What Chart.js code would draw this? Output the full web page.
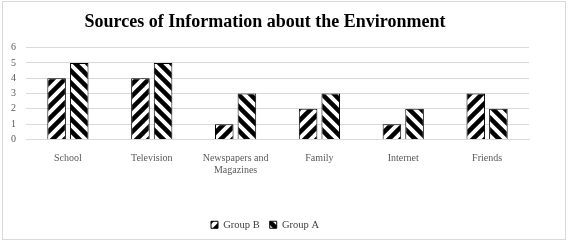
<!DOCTYPE html>
<html>
<head>
<meta charset="utf-8">
<script src="https://cdn.jsdelivr.net/npm/chart.js@4"></script>
<style>
  html, body { margin: 0; padding: 0; background: #fff; }
  #wrap { position: absolute; left: 0; top: 0; width: 569px; height: 246px; }
  #frame { position: absolute; left: 2px; top: 1px; width: 562px; height: 237px; border: 1px solid #d9d9d9; pointer-events: none; }
</style>
</head>
<body>
<div id="wrap"><canvas id="chart" width="569" height="246"></canvas></div>
<div id="frame"></div>
<script>
const categories = ["School", "Television", ["Newspapers and", "Magazines"], "Family", "Internet", "Friends"];
const groupB = [4, 4, 1, 2, 1, 3];
const groupA = [5, 5, 3, 3, 2, 2];
const yTicks = [0, 1, 2, 3, 4, 5, 6];

// striped fill: dir 1 = "/" , dir -1 = "\"
function stripes(dir) {
    const size = 12;
    const c = document.createElement("canvas");
    c.width = size;
    c.height = size;
    const ctx = c.getContext("2d");
    ctx.fillStyle = "#fff";
    ctx.fillRect(0, 0, size, size);
    ctx.strokeStyle = "#000";
    ctx.lineWidth = 4.5;
    for (let k = -1; k <= 1; k++) {
        ctx.beginPath();
        if (dir > 0) {
            ctx.moveTo(k * size - 2, size + 2);
            ctx.lineTo(k * size + size + 2, -2);
        } else {
            ctx.moveTo(k * size - 2, -2);
            ctx.lineTo(k * size + size + 2, size + 2);
        }
        ctx.stroke();
    }
    return ctx.createPattern(c, "repeat");
}

const ctx = document.getElementById("chart").getContext("2d");
const font = "'Liberation Serif', 'Times New Roman', serif";

new Chart(ctx, {
    type: "bar",
    data: {
        labels: categories,
        datasets: [
            {
                label: "Group B",
                data: groupB,
                backgroundColor: stripes(1),
                borderColor: "#000",
                borderWidth: 1,
                categoryPercentage: 0.54,
                barPercentage: 0.82
            },
            {
                label: "Group A",
                data: groupA,
                backgroundColor: stripes(-1),
                borderColor: "#000",
                borderWidth: 1,
                categoryPercentage: 0.54,
                barPercentage: 0.82
            }
        ]
    },
    options: {
        responsive: false,
        animation: false,
        layout: {
            padding: { left: 1, right: 40, top: 10, bottom: 6 }
        },
        plugins: {
            title: {
                display: true,
                text: "Sources of Information about the Environment",
                color: "#000",
                font: { family: font, size: 18, weight: "bold" },
                padding: { top: 2, bottom: 14 }
            },
            legend: {
                position: "bottom",
                labels: {
                    color: "#404040",
                    font: { family: font, size: 10.5 },
                    boxWidth: 7,
                    boxHeight: 7,
                    padding: 10
                }
            },
            tooltip: { enabled: false }
        },
        scales: {
            x: {
                grid: { display: false },
                border: { color: "#d9d9d9" },
                afterFit: (s) => { s.height += 28; },
                ticks: {
                    color: "#595959",
                    font: { family: font, size: 10 },
                    maxRotation: 0,
                    padding: 5
                }
            },
            y: {
                min: 0,
                max: 6,
                afterBuildTicks: (axis) => { axis.ticks = yTicks.map(v => ({ value: v })); },
                grid: { color: "#d9d9d9", drawTicks: false },
                border: { display: false },
                ticks: {
                    color: "#595959",
                    font: { family: font, size: 10 },
                    padding: 10
                }
            }
        }
    }
});
</script>
</body>
</html>
